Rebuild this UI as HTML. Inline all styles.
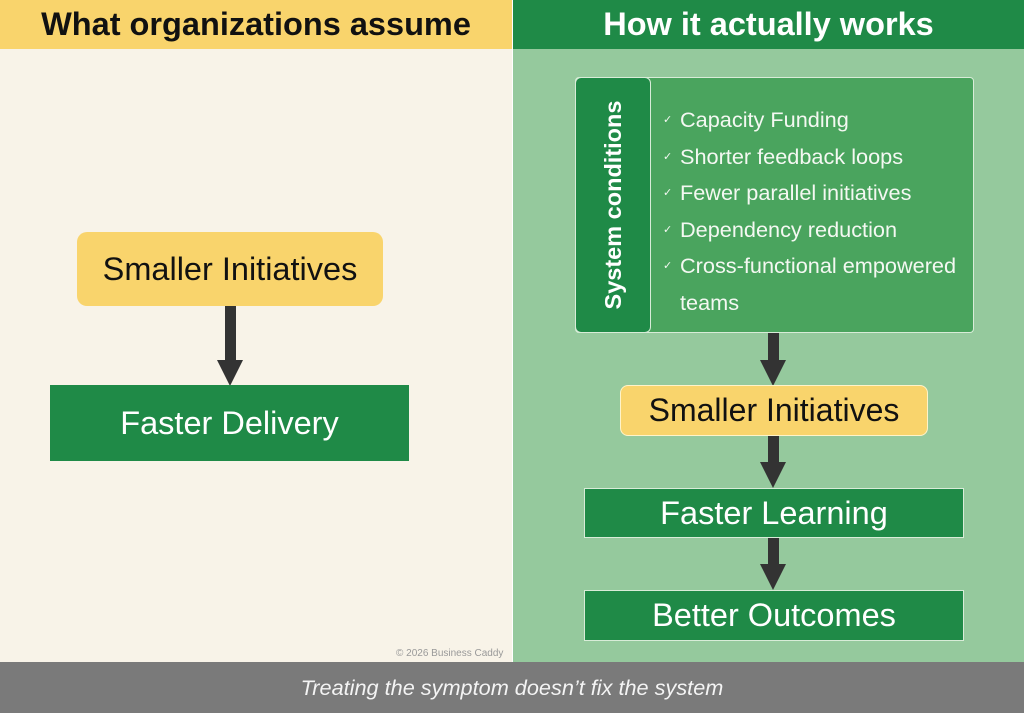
<!DOCTYPE html>
<html><head><style>
body{margin:0;width:1024px;height:713px;position:relative;overflow:hidden;font-family:"Liberation Sans",sans-serif;background:#fff}
div{position:absolute;box-sizing:border-box}
.c{display:flex;align-items:center;justify-content:center;white-space:nowrap}
.shaft{background:#333;width:11px}
.head{width:0;height:0;border-left:13px solid transparent;border-right:13px solid transparent;border-top:26px solid #333}
.li{position:relative;height:36.5px;line-height:36.5px;font-size:21.7px;color:#f4f8f2;white-space:nowrap}
.li span{font-size:11px;position:absolute;left:-17px;top:0}
</style></head><body>
<div class="c" style="left:0;top:0;width:512px;height:49px;background:#f9d46c;font-size:32.5px;font-weight:bold;color:#111">What organizations assume</div>
<div class="c" style="left:513px;top:0;width:511px;height:49px;background:#1f8a47;font-size:32.5px;font-weight:bold;color:#fff">How it actually works</div>
<div style="left:0;top:49px;width:512px;height:613px;background:#f8f3e8"></div>
<div style="left:513px;top:49px;width:511px;height:613px;background:#95c99d"></div>
<div style="left:396px;top:648px;font-size:10px;color:#999">© 2026 Business Caddy</div>
<div class="c" style="left:0;top:662px;width:1024px;height:51px;background:#7a7a7a;color:#f4f4f4;font-size:21.7px;font-style:italic">Treating the symptom doesn’t fix the system</div>

<div class="c" style="left:77px;top:232px;width:306px;height:74px;background:#f9d46c;border-radius:10px;font-size:32.5px;color:#111">Smaller Initiatives</div>
<div class="shaft" style="left:225px;top:306px;height:56px"></div>
<div class="head" style="left:217px;top:360px"></div>
<div class="c" style="left:50px;top:385px;width:359px;height:76px;background:#1f8a47;font-size:32.5px;color:#fff">Faster Delivery</div>

<div style="left:575px;top:77px;width:399px;height:256px;background:#4aa45e;border:1px solid #d8ecd8;border-radius:4px"></div>
<div style="left:575px;top:77px;width:76px;height:256px;background:#1f8a47;border:1px solid #d8ecd8;border-radius:6px"></div>
<div class="c" style="left:483px;top:190px;width:260px;height:30px;transform:rotate(-90deg);color:#fff;font-weight:bold;font-size:23.5px">System conditions</div>
<div style="left:680px;top:102px">
<div class="li"><span>✓</span>Capacity Funding</div>
<div class="li"><span>✓</span>Shorter feedback loops</div>
<div class="li"><span>✓</span>Fewer parallel initiatives</div>
<div class="li"><span>✓</span>Dependency reduction</div>
<div class="li"><span>✓</span>Cross-functional empowered</div>
<div class="li">teams</div>
</div>
<div class="shaft" style="left:768px;top:333px;height:30px"></div>
<div class="head" style="left:760px;top:360px"></div>
<div class="c" style="left:620px;top:385px;width:308px;height:51px;background:#f9d46c;border:1px solid #fff3c8;border-radius:8px;font-size:32px;color:#111">Smaller Initiatives</div>
<div class="shaft" style="left:768px;top:436px;height:28px"></div>
<div class="head" style="left:760px;top:462px"></div>
<div class="c" style="left:584px;top:488px;width:380px;height:50px;background:#1f8a47;border:1px solid #d8ecd8;font-size:32.5px;color:#fff">Faster Learning</div>
<div class="shaft" style="left:768px;top:538px;height:28px"></div>
<div class="head" style="left:760px;top:564px"></div>
<div class="c" style="left:584px;top:590px;width:380px;height:51px;background:#1f8a47;border:1px solid #d8ecd8;font-size:32.5px;color:#fff">Better Outcomes</div>
</body></html>
